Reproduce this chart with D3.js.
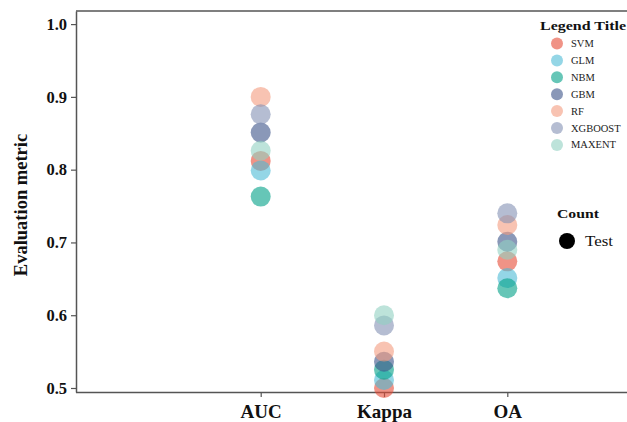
<!DOCTYPE html>
<html>
<head>
<meta charset="utf-8">
<script src="https://cdn.jsdelivr.net/npm/d3@7/dist/d3.min.js"></script>
<style>
  html, body { margin: 0; padding: 0; background: #fff; }
  svg { display: block; font-family: "Liberation Serif", "Times New Roman", serif; }
</style>
</head>
<body>
<svg id="chart" width="627" height="422"></svg>
<script>
const metrics = ["AUC", "Kappa", "OA"];
const models = ["SVM", "GLM", "NBM", "GBM", "RF", "XGBOOST", "MAXENT"];
const colors = ["#E64B35", "#4DBBD5", "#00A087", "#3C5488", "#F39B7F", "#8491B4", "#91D1C2"];
const SVM = [0.812, 0.500, 0.674];
const GLM = [0.799, 0.511, 0.651];
const NBM = [0.763, 0.525, 0.637];
const GBM = [0.851, 0.536, 0.701];
const RF = [0.900, 0.550, 0.724];
const XGBOOST = [0.876, 0.586, 0.740];
const MAXENT = [0.826, 0.600, 0.690];
const yTicks = [0.5, 0.6, 0.7, 0.8, 0.9, 1.0];

const seriesValues = [SVM, GLM, NBM, GBM, RF, XGBOOST, MAXENT];
const data = [];
models.forEach((m, i) => metrics.forEach((k, j) => data.push({model: m, metric: k, value: seriesValues[i][j]})));

const svg = d3.select("#chart");
const mLeft = 76, mRight = 627, mTop = 11, mBottom = 392;

const x = d3.scalePoint().domain(metrics).range([260.7, 507.3]);
const y = d3.scaleLinear().domain([0.4945, 1.018]).range([mBottom, mTop]);
const color = d3.scaleOrdinal().domain(models).range(colors);

const axisColor = "#555";

// frame: top border
svg.append("line").attr("x1", mLeft).attr("x2", mRight).attr("y1", mTop).attr("y2", mTop)
  .attr("stroke", axisColor).attr("stroke-width", 1.5);

// y axis
const yAxis = svg.append("g").attr("transform", `translate(${mLeft},0)`)
  .call(d3.axisLeft(y).tickValues(yTicks).tickFormat(d3.format(".1f")).tickSize(5).tickPadding(4).tickSizeOuter(0));
yAxis.select(".domain").attr("stroke", axisColor).attr("stroke-width", 1.5);
yAxis.selectAll(".tick line").attr("stroke", axisColor).attr("stroke-width", 1.2);
yAxis.selectAll(".tick text").attr("fill", "#111").attr("font-size", 16.5).attr("font-weight", "bold")
  .attr("font-family", "Liberation Serif, serif");

// x axis
const xAxis = svg.append("g").attr("transform", `translate(0,${mBottom})`)
  .call(d3.axisBottom(x).tickSize(5).tickPadding(8).tickSizeOuter(0));
xAxis.select(".domain").attr("d", `M${mLeft},0.5H${mRight}`).attr("stroke", axisColor).attr("stroke-width", 1.5);
xAxis.selectAll(".tick line").attr("stroke", axisColor).attr("stroke-width", 1.2);
xAxis.selectAll(".tick text").attr("fill", "#111").attr("font-size", 19).attr("font-weight", "bold")
  .attr("font-family", "Liberation Serif, serif");

// y title
svg.append("text")
  .attr("transform", `translate(27,205) rotate(-90)`)
  .attr("text-anchor", "middle")
  .attr("font-size", 18.5).attr("font-weight", "bold").attr("fill", "#111")
  .text("Evaluation metric");

// points
svg.append("g").selectAll("circle").data(data).join("circle")
  .attr("cx", d => x(d.metric))
  .attr("cy", d => y(d.value))
  .attr("r", 10)
  .attr("fill", d => color(d.model))
  .attr("fill-opacity", 0.6);

// legend
const lg = svg.append("g");
lg.append("text").attr("x", 540).attr("y", 30).attr("font-size", 13.5).attr("font-weight", "bold")
  .attr("textLength", 86).attr("lengthAdjust", "spacingAndGlyphs")
  .attr("fill", "#111").text("Legend Title");
models.forEach((m, i) => {
  const cy = 43.5 + i * 16.9;
  lg.append("circle").attr("cx", 557).attr("cy", cy).attr("r", 6)
    .attr("fill", color(m)).attr("fill-opacity", 0.6);
  lg.append("text").attr("x", 571).attr("y", cy + 3.5).attr("font-size", 10.5).attr("fill", "#222").text(m);
});

lg.append("text").attr("x", 557).attr("y", 218).attr("font-size", 13.5).attr("font-weight", "bold")
  .attr("textLength", 42).attr("lengthAdjust", "spacingAndGlyphs")
  .attr("fill", "#111").text("Count");
lg.append("circle").attr("cx", 567).attr("cy", 241).attr("r", 8).attr("fill", "#000");
lg.append("text").attr("x", 585).attr("y", 246).attr("font-size", 14).attr("fill", "#111")
  .attr("textLength", 28).attr("lengthAdjust", "spacingAndGlyphs").text("Test");
</script>
</body>
</html>
